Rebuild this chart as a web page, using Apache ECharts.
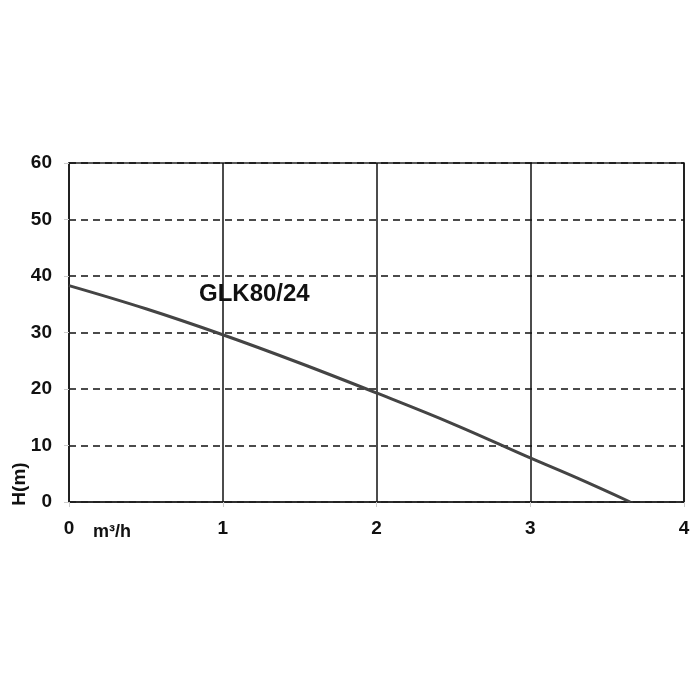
<!DOCTYPE html>
<html><head><meta charset="utf-8">
<script src="https://cdn.jsdelivr.net/npm/echarts@6/dist/echarts.min.js"></script>
<style>html,body{margin:0;padding:0;background:#fff}#c{width:700px;height:700px}</style>
</head><body><div id="c"></div>
<script>
const flow = [0, 0.5, 1, 1.5, 2, 2.5, 3, 3.3, 3.65];
const head = [38.3, 34.2, 29.6, 24.6, 19.3, 13.8, 7.8, 4.3, 0];
const xTicks = [0, 1, 2, 3, 4];
const yTicks = [0, 10, 20, 30, 40, 50, 60];
const modelName = 'GLK80/24';
const xName = 'm³/h';
const yName = 'H(m)';

const chart = echarts.init(document.getElementById('c'));
const font = 'Liberation Sans, Arial, sans-serif';
chart.setOption({
  animation: false,
  backgroundColor: '#fff',
  grid: { left: 69, right: 16, top: 163, bottom: 198, show: true, borderColor: '#222', borderWidth: 1.5, backgroundColor: 'transparent' },
  xAxis: {
    type: 'value', min: xTicks[0], max: xTicks[xTicks.length - 1], interval: 1,
    axisLine: { show: true, lineStyle: { color: '#222', width: 1.5 } },
    axisTick: { show: true, length: 5, lineStyle: { color: '#ccc' } },
    axisLabel: { color: '#111', fontSize: 19, fontWeight: 'bold', fontFamily: font, margin: 17 },
    splitLine: { show: true, lineStyle: { color: '#111', width: 1.5, type: 'solid' } }
  },
  yAxis: {
    type: 'value', min: yTicks[0], max: yTicks[yTicks.length - 1], interval: 10,
    axisLine: { show: true, lineStyle: { color: '#222', width: 1.5 } },
    axisTick: { show: true, length: 5, lineStyle: { color: '#ccc' } },
    axisLabel: { color: '#111', fontSize: 19, fontWeight: 'bold', fontFamily: font, margin: 17 },
    splitLine: { show: true, lineStyle: { color: '#111', width: 1.5, type: [7, 5] } }
  },
  series: [{
    type: 'line', smooth: 0.4, symbol: 'none',
    data: flow.map((f, i) => [f, head[i]]),
    lineStyle: { color: '#444', width: 3 },
    z: 5
  }],
  graphic: [
    { type: 'text', left: 199, top: 282, style: { text: modelName, fontSize: 24, fontWeight: 'bold', fontFamily: font, fill: '#111' } },
    { type: 'text', left: 93, top: 523, style: { text: xName, fontSize: 18, fontWeight: 'bold', fontFamily: font, fill: '#111' } },
    { type: 'text', x: 20, y: 484, rotation: Math.PI / 2, style: { text: yName, fontSize: 19, fontWeight: 'bold', fontFamily: font, fill: '#111', align: 'center', verticalAlign: 'middle' } }
  ]
});
</script></body></html>
